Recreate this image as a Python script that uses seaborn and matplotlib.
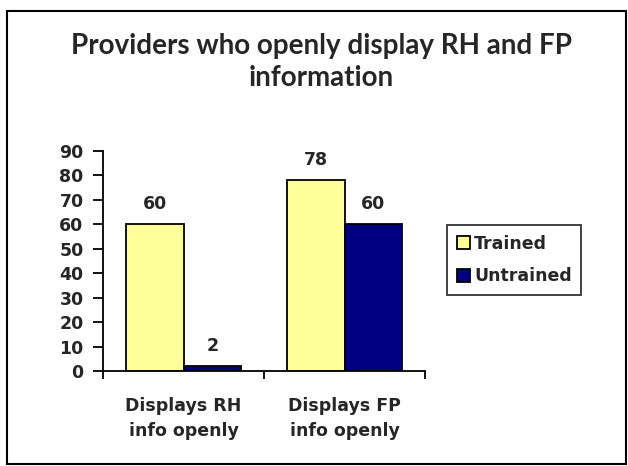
import pandas as pd
import matplotlib.pyplot as plt
import seaborn as sns
from matplotlib.patches import Rectangle

# chart data
categories = ['Displays RH\ninfo openly', 'Displays FP\ninfo openly']
groups = ['Trained', 'Untrained']
trained = [60, 78]
untrained = [2, 60]
title_lines = ['Providers who openly display RH and FP', 'information']

df = pd.DataFrame({
    'Category': categories * 2,
    'Group': ['Trained'] * 2 + ['Untrained'] * 2,
    'Value': trained + untrained,
})

sns.set_theme(style="white")
plt.rcParams['font.family'] = ['DejaVu Sans']
FS = 12.5

fig = plt.figure(figsize=(6.28, 4.66), dpi=100)
ax = fig.add_axes([103 / 628, 1 - 371 / 466, 322 / 628, 220 / 466])

sns.barplot(
    data=df, x='Category', y='Value', hue='Group',
    hue_order=groups, order=categories,
    palette=['#FFFF99', '#000080'],
    edgecolor='black', linewidth=1.3, width=0.714,
    saturation=1, ax=ax,
)

for cont in ax.containers:
    ax.bar_label(cont, fmt='%d', padding=8, fontsize=FS, fontweight='bold')

ax.set_ylim(0, 90)
ax.set_yticks(range(0, 91, 10))
ax.set_xlim(-0.5, 1.5)
ax.set_xticks([-0.5, 0.5, 1.5])
ax.set_xticklabels(['', '', ''])
ax.set_xticks([0, 1], minor=True)
ax.set_xticklabels(categories, minor=True, fontsize=FS, fontweight='bold',
                   linespacing=1.45)
ax.tick_params(axis='x', which='major', length=6, width=1.3, color='black', bottom=True, direction='out')
ax.tick_params(axis='x', which='minor', length=0, pad=19)
ax.tick_params(axis='y', length=7, width=1.3, color='black', left=True, direction='out', pad=7)
for lab in ax.get_yticklabels():
    lab.set_fontsize(FS)
    lab.set_fontweight('bold')

ax.set_xlabel('')
ax.set_ylabel('')
sns.despine(ax=ax)
for side in ['left', 'bottom']:
    ax.spines[side].set_color('black')
    ax.spines[side].set_linewidth(1.3)

leg = ax.legend(
    loc='upper left', bbox_to_anchor=(447 / 628, 1 - 225 / 466),
    bbox_transform=fig.transFigure, frameon=True, fancybox=False,
    prop={'size': FS, 'weight': 'bold'}, handlelength=0.75, handleheight=0.75,
    handletextpad=0.25, borderpad=0.55, labelspacing=0.85, borderaxespad=0,
)
leg.get_frame().set_edgecolor('black')
leg.get_frame().set_linewidth(1.3)

# two-line title
for line, base in zip(title_lines, [54, 86]):
    fig.text(321 / 628, 1 - base / 466, line, ha='center', va='baseline',
             fontsize=20, fontweight='bold', family=['Lato', 'DejaVu Sans'])

# chart-area frame
fig.patches.append(Rectangle((7 / 628, 2 / 466), 619 / 628, 453 / 466,
                             transform=fig.transFigure, fill=False,
                             edgecolor='black', linewidth=1.5))

fig.savefig('out.png', dpi=100)
